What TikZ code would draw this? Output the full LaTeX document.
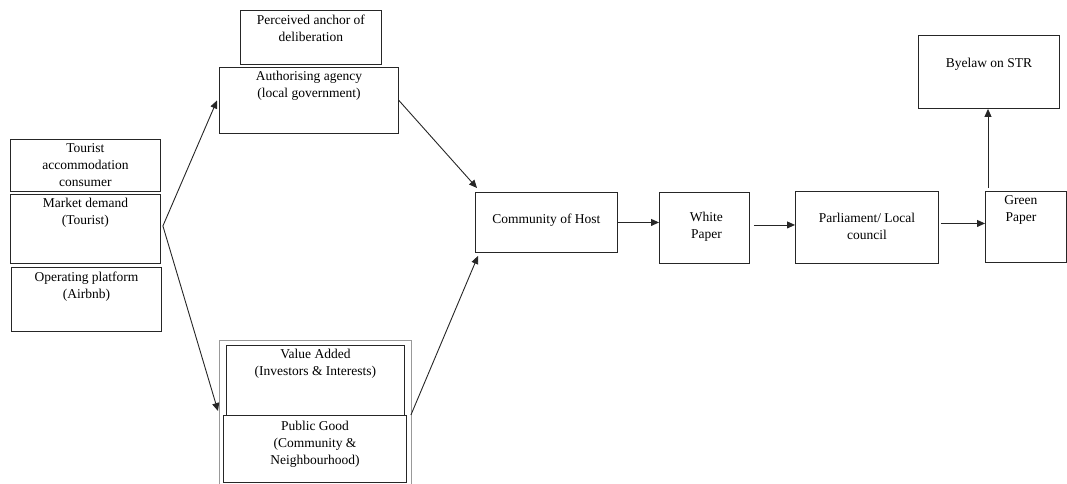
\documentclass[tikz,border=0pt]{standalone}
\usepackage{fontspec}
\setmainfont{Liberation Serif}
\usetikzlibrary{calc,arrows.meta}
\begin{document}
\begin{tikzpicture}[x=1pt,y=-1pt,
  box/.style={draw=black!85,line width=0.9pt,anchor=north west,inner sep=0pt},
  txt/.style={anchor=north,align=center,inner sep=0pt,font=\fontsize{13.5}{17}\selectfont},
  ctxt/.style={align=center,inner sep=0pt,font=\fontsize{13.5}{17}\selectfont},
  conn/.style={draw=black!85,line width=0.9pt,-{Triangle[length=8pt,width=7pt]}}]
\useasboundingbox (0,0) rectangle (1067,483);
% boxes
\node[box,minimum width=141,minimum height=54] (pa) at (240,10) {};
\node[box,minimum width=179,minimum height=66] (aa) at (219,67) {};
\node[box,minimum width=150,minimum height=52] (tc) at (10,139) {};
\node[box,minimum width=150,minimum height=69] (md) at (10,194) {};
\node[box,minimum width=150,minimum height=64] (op) at (11,267) {};
\node[draw=black!40,line width=0.8pt,anchor=north west,inner sep=0pt,minimum width=192,minimum height=145] (fr) at (219,340) {};
\node[box,minimum width=178,minimum height=70] (va) at (226,345) {};
\node[box,minimum width=183,minimum height=67] (pg) at (223,415) {};
\node[box,minimum width=142,minimum height=60] (ch) at (475,192) {};
\node[box,minimum width=90,minimum height=71] (wp) at (659,192) {};
\node[box,minimum width=143,minimum height=72] (pl) at (795,191) {};
\node[box,minimum width=81,minimum height=71] (gp) at (985,191) {};
\node[box,minimum width=141,minimum height=73] (bl) at (918,35) {};
% texts
\node[txt] (tpa) at ($(pa.north)+(0,5)$) {Perceived anchor of\\deliberation};
\node[txt] (taa) at ($(aa.north)+(0,4)$) {Authorising agency\\(local government)};
\node[txt] (ttc) at ($(tc.north)+(0,4)$) {Tourist\\accommodation\\consumer};
\node[txt] (tmd) at ($(md.north)+(0,4)$) {Market demand\\(Tourist)};
\node[txt] (top) at ($(op.north)+(0,5)$) {Operating platform\\(Airbnb)};
\node[txt] (tva) at ($(va.north)+(0,4)$) {Value Added\\(Investors \& Interests)};
\node[txt] (tpg) at ($(pg.north)+(0,6)$) {Public Good\\(Community \&\\Neighbourhood)};
\node[ctxt] (tch) at ($(ch.center)+(0,-2)$) {Community of Host};
\node[ctxt] (twp) at ($(wp.center)+(2,-1)$) {White\\Paper};
\node[ctxt] (tpl) at ($(pl.center)+(0,-1)$) {Parliament/ Local\\council};
\node[txt] (tgp) at ($(gp.north)+(-5,4)$) {Green\\Paper};
\node[ctxt] (tbl) at ($(bl.center)+(0,-8)$) {Byelaw on STR};
% connectors
\coordinate (fork) at ($(md.east)+(2,-3)$);
\coordinate (gpt) at ($(gp.north west)+(3,-3)$);
\coordinate (wpe) at ($(wp.east)+(4,-3)$);
\coordinate (ple) at ($(pl.east)+(2,-4)$);
\draw[conn] (fork) -- ($(aa.west)+(-2,0)$);
\draw[conn] (fork) -- ($(pg.north west)+(-5,-4)$);
\draw[conn] (aa.east) -- ($(ch.north west)+(2,-4)$);
\draw[conn] ($(pg.north east)+(4,0)$) -- ($(ch.south west)+(3,3)$);
\draw[conn] (ch.east) -- (ch.east -| wp.west);
\draw[conn] (wpe) -- (wpe -| pl.west);
\draw[conn] (ple) -- (ple -| gp.west);
\draw[conn] (gpt) -- (gpt |- bl.south);
\end{tikzpicture}
\end{document}
